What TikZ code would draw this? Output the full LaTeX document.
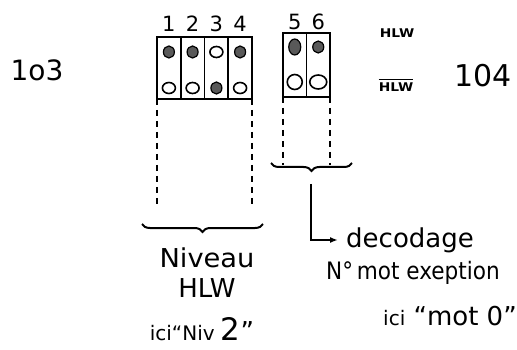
\documentclass[tikz,border=0pt]{standalone}
\usepackage{graphicx}
\usepackage{fontspec}
\setmainfont{DejaVu Sans}
\usetikzlibrary{decorations.pathreplacing,arrows.meta,shapes.geometric}
\newcommand\wid[2]{\scalebox{#1}[1]{#2}}
\begin{document}
\begin{tikzpicture}[x=1pt,y=-1pt,
  frame/.style={draw,line width=2.6pt,inner sep=0,outer sep=0},
  cellbox/.style={draw,line width=1.8pt,inner sep=0,outer sep=0},
  full/.style={ellipse,draw,line width=1.2pt,fill=black!65,minimum width=11pt,minimum height=12pt,inner sep=0},
  empty/.style={ellipse,draw,line width=1.6pt,minimum width=13pt,minimum height=11pt,inner sep=0},
  num/.style={font=\fontsize{21}{23}\selectfont,inner sep=0},
  hand/.style={font=\fontsize{26}{30}\selectfont,inner sep=0},
  guide/.style={line width=2pt,dash pattern=on 6pt off 5pt},
  bracestyle/.style={line width=2pt,decorate,decoration={brace,amplitude=8pt,mirror}},
  pointer/.style={line width=1.6pt,-{Latex[length=8pt,width=6pt]}}
]
\useasboundingbox (0,0) rectangle (517,350);
% left group: cells 1-4
\foreach \i/\cx in {1/168.9,2/192.6,3/216.4,4/240.1}{
  \node[cellbox,minimum width=23.75pt,minimum height=62pt] (c\i) at (\cx,68) {};
  \node[num] (n\i) at (\cx,24) {\i};
}
\node[frame,minimum width=95pt,minimum height=62pt] (boxA) at (204.5,68) {};
% right group: cells 5-6
\foreach \i/\cx in {5/294.75,6/318.25}{
  \node[cellbox,minimum width=23.5pt,minimum height=64pt] (c\i) at (\cx,65) {};
  \node[num] (n\i) at (\cx,22) {\i};
}
\node[frame,minimum width=47pt,minimum height=64pt] (boxB) at (306.5,65) {};
% bits
\node[full]  (t1) at (168.9,52) {};
\node[empty] (b1) at (168.9,88) {};
\node[full]  (t2) at (192.6,52) {};
\node[empty] (b2) at (192.6,88) {};
\node[empty] (t3) at (216.4,52) {};
\node[full]  (b3) at (216.4,88) {};
\node[full]  (t4) at (240.1,52) {};
\node[empty] (b4) at (240.1,88) {};
\node[full,minimum height=16pt,minimum width=12pt]  (t5) at (294.75,47) {};
\node[empty,minimum width=15pt,minimum height=15pt] (b5) at (294.75,82) {};
\node[full]  (t6) at (318.25,47) {};
\node[empty,minimum width=17pt,minimum height=14pt] (b6) at (318.25,82) {};
% guides
\coordinate (gA1) at (157,206);
\coordinate (gA2) at (252,206);
\coordinate (gB1) at (283,165);
\coordinate (gB2) at (330,165);
\draw[guide] (boxA.south west) -- (gA1);
\draw[guide] (boxA.south east) -- (gA2);
\draw[guide] (boxB.south west) -- (gB1);
\draw[guide] (boxB.south east) -- (gB2);
% braces
\coordinate (brA1) at (142,224);
\coordinate (brA2) at (263,224);
\coordinate (brB1) at (271,163);
\coordinate (brB2) at (352,163);
\draw[bracestyle] (brA1) -- (brA2);
\draw[bracestyle] (brB1) -- (brB2);
% side labels
\node[hand,font=\fontsize{28}{30}\selectfont] (l103) at (37,70) {1o3};
\node[hand,font=\fontsize{30}{32}\selectfont] (l104) at (483,76) {104};
\node[inner sep=0,font=\fontsize{12}{14}\selectfont\bfseries] (hlw) at (397,33) {\wid{1.15}{HLW}};
\node[inner sep=0,font=\fontsize{12}{14}\selectfont\bfseries] (hlwn) at (396,87) {\wid{1.15}{HLW}};
\draw[line width=1.5pt] ([yshift=3pt]hlwn.north west) -- ([yshift=3pt]hlwn.north east);
% lower texts
\node[hand] (niv) at (207,258) {\wid{1.05}{Niveau}};
\node[hand] (hlwb) at (207,288) {HLW};
\node[hand] (ici1) at (202,329) {{\fontsize{20}{24}\selectfont ici“Niv }{\fontsize{31}{33}\selectfont 2}”};
\coordinate (tip) at (311,184);
\node[hand,anchor=west] (dec) at (346,240) {decodage};
\node[hand,font=\fontsize{24}{28}\selectfont] (nmot) at (413,273) {\wid{0.9}{N°\,mot exeption}};
\node[hand] (ici2) at (450,316) {{\fontsize{20}{24}\selectfont ici} “mot 0”};
\draw[pointer] (tip) |- ([xshift=-8pt]dec.west);
\end{tikzpicture}
\end{document}
